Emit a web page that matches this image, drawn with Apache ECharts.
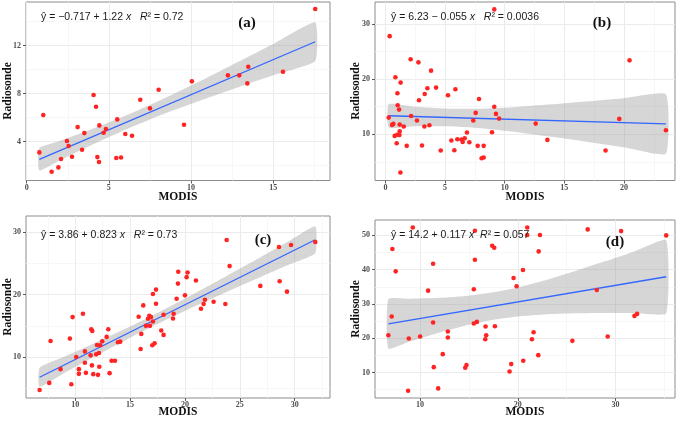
<!DOCTYPE html>
<html><head><meta charset="utf-8">
<script src="https://cdn.jsdelivr.net/npm/echarts@6/dist/echarts.min.js"></script>
<style>html,body{margin:0;padding:0;background:#fff}#c{width:685px;height:421px}</style>
</head><body><div id="c"></div>
<script>
// ---------- data ----------
const aModis = [0.77,1.01,1.52,1.93,2.09,2.45,2.55,2.76,3.10,3.37,3.51,4.07,4.22,4.30,4.40,4.42,4.68,4.82,5.45,5.51,5.74,6.00,6.41,6.91,7.50,8.03,9.57,10.05,12.24,12.93,13.42,13.48,15.59,17.55];
const aRadio = [3.11,6.22,1.5,1.86,2.56,4.06,3.64,2.75,5.22,3.33,4.72,7.89,6.92,2.72,2.31,5.36,4.75,5.06,2.64,5.86,2.69,4.64,4.5,7.5,6.78,8.33,5.42,9.03,9.53,9.53,8.86,10.25,9.83,15.06];
const aFit = [[0.77,2.53],[17.55,12.33]];
const aBandX  = [0.77,2,3.5,5,6.25,7.5,9,11,13,15,17.55];
const aBandLo = [1.60,2.44,3.44,4.40,5.15,5.86,6.66,7.65,8.61,9.54,10.72];
const aBandHi = [3.46,4.06,4.80,5.60,6.31,7.06,8.02,9.35,10.74,12.14,13.94];

const bModis = [0.28,0.36,0.56,0.67,0.84,0.78,1.0,1.18,0.95,1.01,1.03,1.15,1.20,1.20,1.28,1.26,1.54,1.79,2.12,2.15,2.65,2.77,2.82,3.07,3.27,3.30,3.52,3.69,3.83,4.25,4.64,5.25,5.53,5.78,5.87,6.03,6.37,6.48,6.65,6.84,7.04,7.37,7.57,7.74,7.85,8.07,8.24,8.24,8.94,9.13,9.13,9.27,9.53,12.6,13.58,18.46,19.61,20.47,23.52];
const bRadio = [13.02,27.8,11.69,11.87,20.33,9.70,9.9,9.85,8.37,17.43,15.26,14.47,11.75,10.54,19.37,3.05,11.39,7.89,23.6,13.32,12.48,23.05,16.16,7.95,11.39,17.31,18.34,11.63,21.54,18.46,7.04,17.07,8.85,7.1,18.16,9.09,9.03,8.61,9.27,10.3,8.55,12.48,13.87,7.89,16.4,5.65,5.77,7.89,10.36,32.66,15.0,13.69,12.84,11.93,8.97,7.04,12.78,23.41,10.73];
const bFit = [[0.28,13.35],[23.52,11.87]];
const bBandX  = [0.28,2.5,5.2,8,11,14,17,20,23.52];
const bBandLo = [11.23,11.44,11.44,11.08,10.38,9.53,8.60,7.63,6.47];
const bBandHi = [15.47,14.98,14.64,14.64,14.96,15.43,15.98,16.55,17.27];

const cModis = [6.75,7.63,7.75,8.66,9.51,9.64,9.76,10.09,10.33,10.33,10.70,10.88,10.88,10.97,11.40,11.46,11.52,11.55,11.64,11.91,11.98,12.07,12.16,12.19,12.28,12.46,12.86,13.01,13.13,13.31,13.62,13.89,14.10,15.78,15.96,16.02,16.2,16.44,16.63,16.75,16.81,16.9,17.08,17.08,17.02,17.23,17.36,17.36,17.84,18.05,18.05,18.91,18.97,19.24,19.36,19.39,20.0,20.15,20.24,21.0,21.46,21.70,21.82,22.61,23.68,23.80,24.07,26.87,28.57,28.63,29.30,29.67,31.88];
const cRadio = [4.73,5.86,12.58,8.06,12.96,5.65,16.4,10.0,8.06,7.31,16.94,10.91,9.09,7.47,10.27,14.46,8.66,14.19,7.26,10.43,11.94,7.15,10.65,8.44,11.88,12.53,13.23,14.46,7.42,9.41,9.41,12.37,12.47,16.45,11.29,13.71,18.28,15.0,16.13,16.61,15.0,16.40,20.11,15.7,11.88,12.2,20.81,18.55,14.25,16.77,13.55,16.18,16.94,19.35,21.77,23.66,19.89,22.8,23.55,22.26,17.74,18.49,19.19,18.87,18.49,28.76,24.57,21.4,27.63,22.15,20.48,27.96,28.44];
const cFit = [[6.75,6.77],[31.88,28.79]];
const cBandX  = [6.75,9,12,15,16.5,18,21,24,27,29.5,31.88];
const cBandLo = [5.25,7.45,10.33,13.11,14.44,15.74,18.22,20.60,22.91,24.83,26.63];
const cBandHi = [8.29,10.04,12.41,14.89,16.18,17.52,20.30,23.19,26.11,28.59,30.95];

const dModis = [6.75,7.09,7.16,7.5,8.77,8.84,9.25,10.0,10.82,11.33,11.33,11.40,11.85,12.32,12.84,12.84,14.62,14.75,15.50,15.50,15.61,15.61,15.81,16.70,16.67,16.77,17.38,17.59,17.66,19.16,19.33,19.57,19.88,20.53,20.56,20.97,20.97,21.45,21.62,22.1,22.14,22.27,25.59,27.16,28.09,29.21,30.58,31.95,32.22,35.2];
const dRadio = [20.87,26.31,46.02,39.51,4.66,19.9,52.33,20.49,33.88,41.75,24.56,11.55,5.34,15.34,21.94,20.19,11.36,12.14,24.27,34.27,42.91,51.36,24.76,23.4,19.71,20.87,46.99,46.41,23.5,10.29,12.43,37.57,35.15,39.9,13.4,52.33,50.1,19.71,21.75,15.05,45.34,50.1,19.22,51.75,34.08,20.49,51.26,26.5,27.09,50.0];
const dFit = [[6.75,24.2],[35.2,37.93]];
const dBandX  = [6.75,9,12,15,17.5,20,23,26,29,32,35.2];
const dBandLo = [16.98,19.07,21.69,23.94,25.39,26.35,27.0,27.28,27.36,27.35,27.27];
const dBandHi = [31.42,31.49,31.77,32.42,33.39,34.83,37.08,39.70,42.50,45.41,48.60];

// tick labels
const aXTicks = [0,5,10,15],        aXMinor = [2.5,7.5,12.5,17.5];
const aYTicks = [4,8,12],           aYMinor = [2,6,10,14];
const bXTicks = [0,5,10,15,20],     bXMinor = [2.5,7.5,12.5,17.5,22.5];
const bYTicks = [10,20,30],         bYMinor = [5,15,25];
const cXTicks = [10,15,20,25,30],   cXMinor = [7.5,12.5,17.5,22.5,27.5,32.5];
const cYTicks = [10,20,30],         cYMinor = [5,15,25];
const dXTicks = [10,20,30],         dXMinor = [15,25,35];
const dYTicks = [10,20,30,40,50],   dYMinor = [5,15,25,35,45];

const eqA = ['ŷ = −0.717 + 1.22 ', '   ', '² = 0.72'];
const eqB = ['ŷ = 6.23 − 0.055 ', '   ', '² = 0.0036'];
const eqC = ['ŷ = 3.86 + 0.823 ', '   ', '² = 0.73'];
const eqD = ['ŷ = 14.2 + 0.117 ', '  ', '² = 0.057'];
const xTitle = 'MODIS', yTitle = 'Radiosonde';

// ---------- layout ----------
const panels = [
  {lab:'(a)', xs:aModis, ys:aRadio, fit:aFit, bx:aBandX, blo:aBandLo, bhi:aBandHi, eq:eqA,
   grid:{left:26, top:2, width:304, height:178.5}, xr:[-0.04,18.45], yr:[0.77,15.64],
   xt:aXTicks, xm:aXMinor, yt:aYTicks, ym:aYMinor, eqPos:[41, 17], labPos:[247, 23], yTitlePos:[8, 91], xTitlePos:[178, 197]},
  {lab:'(b)', xs:bModis, ys:bRadio, fit:bFit, bx:bBandX, blo:bBandLo, bhi:bBandHi, eq:eqB,
   grid:{left:375, top:2, width:300, height:178.5}, xr:[-0.87,24.28], yr:[1.6,34.0],
   xt:bXTicks, xm:bXMinor, yt:bYTicks, ym:bYMinor, eqPos:[391, 17], labPos:[602, 23], yTitlePos:[356, 91], xTitlePos:[525, 197]},
  {lab:'(c)', xs:cModis, ys:cRadio, fit:cFit, bx:cBandX, blo:cBandLo, bhi:cBandHi, eq:eqC,
   grid:{left:26, top:216, width:304, height:182}, xr:[5.51,33.22], yr:[3.44,32.6],
   xt:cXTicks, xm:cXMinor, yt:cYTicks, ym:cYMinor, eqPos:[41, 235], labPos:[263, 240], yTitlePos:[8, 307], xTitlePos:[178, 412]},
  {lab:'(d)', xs:dModis, ys:dRadio, fit:dFit, bx:dBandX, blo:dBandLo, bhi:dBandHi, eq:eqD,
   grid:{left:375, top:220, width:300, height:178}, xr:[5.38,36.1], yr:[2.54,54.5],
   xt:dXTicks, xm:dXMinor, yt:dYTicks, ym:dYMinor, eqPos:[391, 235], labPos:[615, 242], yTitlePos:[356, 309], xTitlePos:[525, 412]}
];

const tickLabel = {fontFamily:'Liberation Serif', fontWeight:'bold', fontSize:8, color:'#4d4d4d'};
const grids = [], xAxes = [], yAxes = [], series = [], graphics = [];

panels.forEach((p, i) => {
  grids.push(Object.assign({show:true, borderColor:'#8c8c8c', borderWidth:1, backgroundColor:'#fff'}, p.grid));
  const base = (dim, r, minor) => ({
    type:'value', gridIndex:i, min:r[0], max:r[1], position: dim==='x'?'bottom':'left',
    axisLine:{show:false, onZero:false}, axisTick:{show:false, customValues:minor},
    axisLabel:{show:false}, splitLine:{show:true, lineStyle:{color:'#f4f4f4', width:0.7}}
  });
  const over = (dim, r, major) => ({
    type:'value', gridIndex:i, min:r[0], max:r[1], position: dim==='x'?'bottom':'left',
    axisLine:{show:false, onZero:false},
    axisTick:{show:true, customValues:major, length:3, lineStyle:{color:'#333', width:0.8}},
    axisLabel:Object.assign({show:true, customValues:major, margin: dim==='x'?3:5}, tickLabel),
    splitLine:{show:true, lineStyle:{color:'#ebebeb', width:1}}
  });
  xAxes.push(base('x', p.xr, p.xm), over('x', p.xr, p.xt));
  yAxes.push(base('y', p.yr, p.ym), over('y', p.yr, p.yt));
  const xi = 2*i, yi = 2*i;
  const bandRows = p.bx.map((x, k) => [x, p.blo[k], p.bhi[k]]);
  series.push({
    type:'custom', xAxisIndex:xi, yAxisIndex:yi, silent:true, clip:true, z:1,
    data: bandRows, encode:{x:0, y:[1,2]},
    renderItem:(params, api) => {
      if (params.dataIndex !== 0) return;
      const up = bandRows.map(r => api.coord([r[0], r[2]]));
      const lo = bandRows.map(r => api.coord([r[0], r[1]])).reverse();
      return {type:'polygon', shape:{points: up.concat(lo), smooth:0.15}, style:{fill:'rgba(153,153,153,0.4)'}};
    }
  });
  series.push({
    type:'line', xAxisIndex:xi, yAxisIndex:yi, data:p.fit, showSymbol:false, silent:true, z:2,
    lineStyle:{color:'#3366ff', width:1.3}
  });
  series.push({
    type:'scatter', xAxisIndex:xi, yAxisIndex:yi, data:p.xs.map((x, k) => [x, p.ys[k]]),
    symbolSize:4.6, silent:true, z:3, itemStyle:{color:'#ff2424', opacity:1}
  });
  const eqFont = {fontSize:10.5, fontFamily:'Liberation Sans', fill:'#1a1a1a'};
  graphics.push({
    type:'text', x:p.eqPos[0], y:p.eqPos[1], z:10,
    style:{text:'{n|' + p.eq[0] + '}{i|x}{n|' + p.eq[1] + '}{i|R}{n|' + p.eq[2] + '}',
      verticalAlign:'middle', align:'left', fontSize:10.5, fontFamily:'Liberation Sans',
      rich:{n:Object.assign({}, eqFont), i:Object.assign({fontStyle:'italic'}, eqFont)}}
  });
  graphics.push({
    type:'text', x:p.labPos[0], y:p.labPos[1], z:10,
    style:{text:p.lab, align:'center', verticalAlign:'middle', fontSize:15, fontWeight:'bold', fontFamily:'Liberation Serif', fill:'#111'}
  });
  graphics.push({
    type:'text', x:p.yTitlePos[0], y:p.yTitlePos[1], rotation:Math.PI/2, z:10,
    style:{text:yTitle, align:'center', verticalAlign:'middle', fontSize:11.5, fontWeight:'bold', fontFamily:'Liberation Serif', fill:'#111'}
  });
  graphics.push({
    type:'text', x:p.xTitlePos[0], y:p.xTitlePos[1], z:10,
    style:{text:xTitle, align:'center', verticalAlign:'middle', fontSize:11.5, fontWeight:'bold', fontFamily:'Liberation Serif', fill:'#111'}
  });
});

const chart = echarts.init(document.getElementById('c'), null, {renderer:'canvas'});
chart.setOption({
  animation:false, backgroundColor:'#fff',
  grid:grids, xAxis:xAxes, yAxis:yAxes, series:series, graphic:graphics
});
</script></body></html>
